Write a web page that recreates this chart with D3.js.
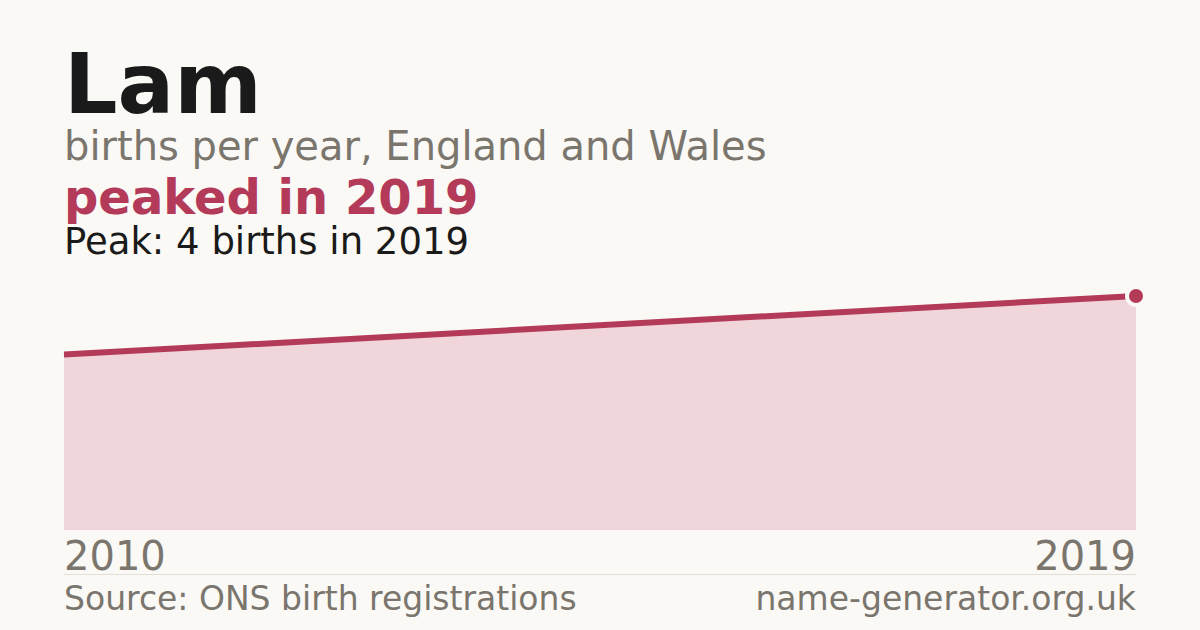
<!DOCTYPE html>
<html>
<head>
<meta charset="utf-8">
<script src="https://cdn.jsdelivr.net/npm/d3@7"></script>
<style>
  html, body { margin: 0; padding: 0; background: #faf9f5; }
  svg { display: block; font-family: "DejaVu Sans", sans-serif; }
</style>
</head>
<body>
<svg id="chart" width="1200" height="630"></svg>
<script>
// data
const years = [2010, 2019];
const births = [3, 4];
const xTickLabels = ['2010', '2019'];

const W = 1200, H = 630;
const margin = { left: 64, right: 64 };
const plotTop = 296, plotBottom = 530;

const colors = {
    bg: '#faf9f5',
    ink: '#1a1a1a',
    grey: '#7a756d',
    accent: '#b33a58',
    fill: '#f0d5da',
    rule: '#e2dfd8'
};

const svg = d3.select('#chart');
svg.append('rect').attr('width', W).attr('height', H).attr('fill', colors.bg);

// titles
svg.append('text').attr('x', 64).attr('y', 113)
    .attr('font-size', 84).attr('font-weight', 'bold').attr('fill', colors.ink)
    .text('Lam');
svg.append('text').attr('x', 64).attr('y', 160)
    .attr('font-size', 40).attr('fill', colors.grey)
    .text('births per year, England and Wales');
svg.append('text').attr('x', 64).attr('y', 214)
    .attr('font-size', 48).attr('font-weight', 'bold').attr('fill', colors.accent)
    .text('peaked in 2019');
svg.append('text').attr('x', 64).attr('y', 254)
    .attr('font-size', 37).attr('fill', colors.ink)
    .text('Peak: 4 births in 2019');

// scales
const data = years.map((y, i) => ({ year: y, value: births[i] }));
const x = d3.scaleLinear()
    .domain(d3.extent(years))
    .range([margin.left, W - margin.right]);
const y = d3.scaleLinear()
    .domain([0, d3.max(births)])
    .range([plotBottom, plotTop]);

// area + line
svg.append('path')
    .datum(data)
    .attr('fill', colors.fill)
    .attr('d', d3.area().x(d => x(d.year)).y0(plotBottom).y1(d => y(d.value)));

svg.append('path')
    .datum(data)
    .attr('fill', 'none')
    .attr('stroke', colors.accent)
    .attr('stroke-width', 6)
    .attr('d', d3.line().x(d => x(d.year)).y(d => y(d.value)));

// peak marker
const peak = data[d3.maxIndex(data, d => d.value)];
svg.append('circle')
    .attr('cx', x(peak.year)).attr('cy', y(peak.value))
    .attr('r', 9)
    .attr('fill', colors.accent)
    .attr('stroke', colors.bg)
    .attr('stroke-width', 4);

// x labels
const axisY = 570;
svg.append('text').attr('x', x(years[0])).attr('y', axisY)
    .attr('font-size', 40).attr('fill', colors.grey)
    .text(xTickLabels[0]);
svg.append('text').attr('x', x(years[1])).attr('y', axisY)
    .attr('text-anchor', 'end')
    .attr('font-size', 40).attr('fill', colors.grey)
    .text(xTickLabels[1]);

// rule + footer
svg.append('line')
    .attr('x1', margin.left).attr('x2', W - margin.right)
    .attr('y1', 574.5).attr('y2', 574.5)
    .attr('stroke', colors.rule).attr('stroke-width', 1);

svg.append('text').attr('x', 64).attr('y', 610)
    .attr('font-size', 33).attr('fill', colors.grey)
    .text('Source: ONS birth registrations');
svg.append('text').attr('x', W - margin.right).attr('y', 610)
    .attr('text-anchor', 'end')
    .attr('font-size', 33).attr('fill', colors.grey)
    .text('name-generator.org.uk');
</script>
</body>
</html>
